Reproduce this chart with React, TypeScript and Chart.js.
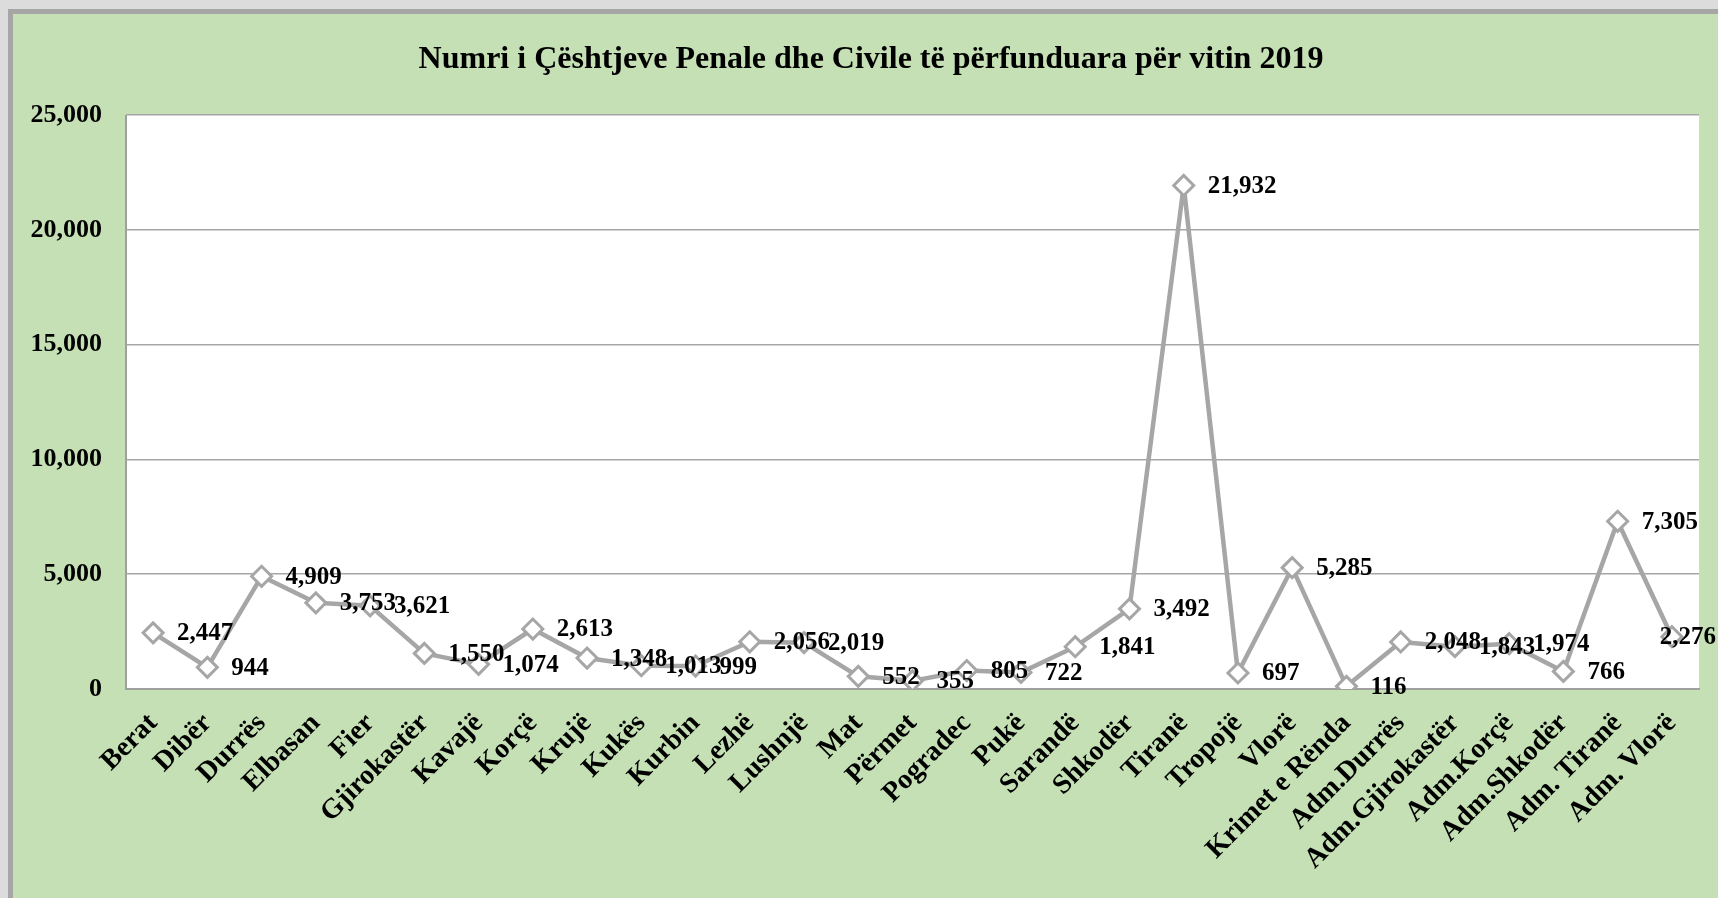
import React, { useEffect, useRef } from "react";
import { Chart, registerables } from "chart.js";

Chart.register(...registerables);

const categories = [
  "Berat", "Dibër", "Durrës", "Elbasan", "Fier", "Gjirokastër", "Kavajë", "Korçë",
  "Krujë", "Kukës", "Kurbin", "Lezhë", "Lushnjë", "Mat", "Përmet", "Pogradec",
  "Pukë", "Sarandë", "Shkodër", "Tiranë", "Tropojë", "Vlorë", "Krimet e Rënda",
  "Adm.Durrës", "Adm.Gjirokastër", "Adm.Korçë", "Adm.Shkodër", "Adm. Tiranë", "Adm. Vlorë",
];

const cases = [
  2447, 944, 4909, 3753, 3621, 1550, 1074, 2613, 1348, 1013, 999, 2056, 2019, 552, 355,
  805, 722, 1841, 3492, 21932, 697, 5285, 116, 2048, 1843, 1974, 766, 7305, 2276,
];

const yTicks = [0, 5000, 10000, 15000, 20000, 25000];

const titleText = "Numri i Çështjeve Penale dhe Civile të përfunduara për vitin 2019";

const W = 1718;
const H = 898;
const FONT = "'Liberation Serif', 'Times New Roman', serif";
const GRAY = "#a6a6a6";

const fmt = (v: number) => v.toLocaleString("en-US");

const framePlugin = {
  id: "frame",
  beforeDraw(chart: any) {
    const ctx = chart.ctx;
    const { left, top, right, bottom } = chart.chartArea;
    ctx.save();
    ctx.fillStyle = "#dcdcdc";
    ctx.fillRect(0, 0, W, H);
    ctx.fillStyle = GRAY;
    ctx.fillRect(8, 9, W - 8, H - 9);
    ctx.fillStyle = "#c5e0b4";
    ctx.fillRect(13, 14, W - 13, H - 14);
    ctx.fillStyle = "#ffffff";
    ctx.fillRect(left, top, right - left, bottom - top);
    ctx.strokeStyle = "#a0a0a0";
    ctx.lineWidth = 2;
    ctx.beginPath();
    ctx.moveTo(left, bottom);
    ctx.lineTo(left, top);
    ctx.stroke();
    ctx.fillStyle = "#000";
    ctx.font = `bold 32px ${FONT}`;
    ctx.textAlign = "center";
    ctx.textBaseline = "middle";
    ctx.fillText(titleText, 871, 60);
    ctx.restore();
  },
  afterDatasetsDraw(chart: any) {
    const ctx = chart.ctx;
    const meta = chart.getDatasetMeta(0);
    ctx.save();
    ctx.fillStyle = "#000";
    ctx.font = `bold 25px ${FONT}`;
    ctx.textAlign = "left";
    ctx.textBaseline = "middle";
    meta.data.forEach((pt: any, i: number) => {
      const txt = fmt(cases[i]);
      const w = ctx.measureText(txt).width;
      const x = Math.min(pt.x + 24, W - 2 - w);
      ctx.fillText(txt, x, pt.y + 1);
    });
    ctx.restore();
  },
};

export default function App() {
  const ref = useRef<HTMLCanvasElement | null>(null);
  useEffect(() => {
    if (!ref.current) return;
    const chart = new Chart(ref.current, {
      type: "line",
      data: {
        labels: categories,
        datasets: [
          {
            data: cases,
            borderColor: GRAY,
            borderWidth: 4.5,
            borderJoinStyle: "round",
            pointStyle: "rectRot",
            pointRadius: 10,
            pointBorderWidth: 3,
            pointBackgroundColor: "#ffffff",
            pointBorderColor: GRAY,
            tension: 0,
          },
        ],
      },
      options: {
        responsive: false,
        animation: false,
        layout: { padding: { top: 115, right: 19, left: 0, bottom: 0 } },
        plugins: { legend: { display: false }, tooltip: { enabled: false }, title: { display: false } },
        scales: {
          x: {
            offset: true,
            grid: { display: false, drawTicks: false },
            border: { display: true, color: "#a0a0a0", width: 2 },
            ticks: {
              minRotation: 45,
              maxRotation: 45,
              autoSkip: false,
              padding: 18,
              color: "#000",
              font: { family: FONT, size: 28, weight: "bold" },
            },
            afterFit(scale: any) {
              scale.height = H - 689;
            },
          },
          y: {
            min: 0,
            max: 25000,
            afterBuildTicks(scale: any) {
              scale.ticks = yTicks.map((v) => ({ value: v }));
            },
            grid: { color: "#a6a6a6", lineWidth: 1.5, drawTicks: false },
            border: { display: false },
            ticks: {
              padding: 24,
              color: "#000",
              font: { family: FONT, size: 26, weight: "bold" },
              callback: (v: any) => fmt(Number(v)),
            },
            afterFit(scale: any) {
              scale.width = 126;
            },
          },
        },
      },
      plugins: [framePlugin],
    });
    return () => chart.destroy();
  }, []);
  return (
    <canvas
      ref={ref}
      width={W}
      height={H}
      style={{ position: "fixed", left: 0, top: 0, width: W, height: H }}
    />
  );
}
